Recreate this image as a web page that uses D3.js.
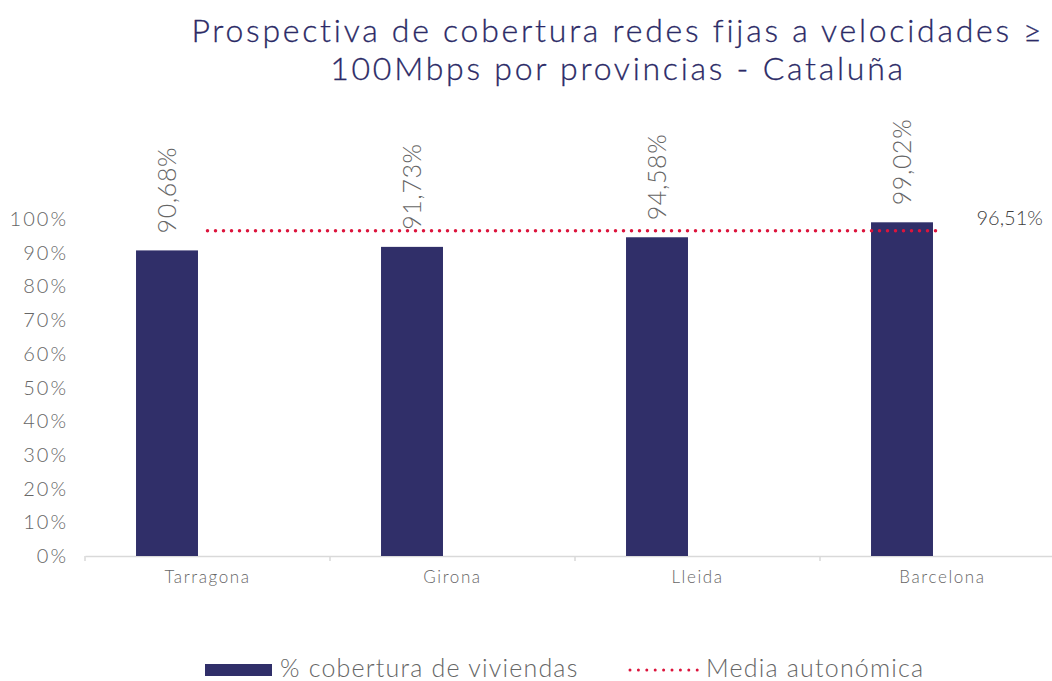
<!DOCTYPE html>
<html>
<head>
<meta charset="utf-8">
<script src="https://cdnjs.cloudflare.com/ajax/libs/d3/7.8.5/d3.min.js"></script>
<style>
  body { margin: 0; background: #fff; }
  svg text { font-family: Lato, "Open Sans", sans-serif; font-weight: 300; }
</style>
</head>
<body>
<div id="chart"></div>
<script>
var provincias = ["Tarragona", "Girona", "Lleida", "Barcelona"];
var cobertura  = [90.68, 91.73, 94.58, 99.02];
var media      = 96.51;
var yTicks     = [0, 10, 20, 30, 40, 50, 60, 70, 80, 90, 100];
var titleLines = ["Prospectiva de cobertura redes fijas a velocidades \u2265", "100Mbps por provincias - Cataluña"];
var legendLabels = ["% cobertura de viviendas", "Media autonómica"];

var W = 1052, H = 681;
var navy = "#302f69", red = "#dc143c", grey = "#666666";

var svg = d3.select("#chart").append("svg")
  .attr("width", W).attr("height", H);

var fmt = v => d3.format(".2f")(v).replace(".", ",") + "%";

// scales
var x = d3.scaleBand().domain(provincias).range([85, 1065]).padding(0);
var xSub = d3.scaleBand().domain(["bar", "line"]).range([0, x.bandwidth()])
  .paddingInner(0.235).paddingOuter(0.63);
var y = d3.scaleLinear().domain([0, 100]).range([556, 219]);

// title
svg.append("text")
  .attr("x", 618).attr("y", 42)
  .attr("text-anchor", "middle")
  .style("font-size", "32px")
  .style("letter-spacing", "2.75px")
  .style("fill", "#2b2a66")
  .style("stroke", "#2b2a66").style("stroke-width", 0.3)
  .selectAll("tspan").data(titleLines).enter().append("tspan")
    .attr("x", 618)
    .attr("dy", (d, i) => i ? 38 : 0)
    .text(d => d);

// y axis labels (no line)
svg.append("g").selectAll("text").data(yTicks).enter().append("text")
  .attr("x", 68).attr("y", d => y(d))
  .attr("dy", "0.35em")
  .attr("text-anchor", "end")
  .style("font-size", "20px")
  .style("letter-spacing", "2px")
  .style("fill", grey)
  .text(d => d + "%");

// x axis
var xAxis = d3.axisBottom(x).tickSize(0).tickPadding(15);
var xg = svg.append("g").attr("transform", "translate(0,556)").call(xAxis);
xg.select(".domain").attr("stroke", "#d9d9d9").attr("stroke-width", 1.5);
xg.selectAll("text").style("font-size", "17px").style("fill", grey)
  .style("font-family", "Lato, sans-serif").style("font-weight", 300)
  .style("letter-spacing", "1.6px");
// category boundary tick marks
xg.selectAll(".sep").data(provincias).enter().append("line")
  .attr("class", "sep")
  .attr("x1", d => x(d)).attr("x2", d => x(d))
  .attr("y1", 0).attr("y2", 5)
  .attr("stroke", "#d9d9d9").attr("stroke-width", 1.5);

// bars
svg.append("g").selectAll("rect").data(provincias).enter().append("rect")
  .attr("x", d => x(d) + xSub("bar"))
  .attr("width", xSub.bandwidth())
  .attr("y", (d, i) => y(cobertura[i]))
  .attr("height", (d, i) => y(0) - y(cobertura[i]))
  .attr("fill", navy);

// rotated data labels
svg.append("g").selectAll("text").data(provincias).enter().append("text")
  .attr("transform", (d, i) => `translate(${x(d) + xSub("bar") + xSub.bandwidth() / 2 + 9}, ${y(cobertura[i]) - 17}) rotate(-90)`)
  .style("font-size", "25px")
  .style("letter-spacing", "0.6px")
  .style("fill", grey)
  .text((d, i) => fmt(cobertura[i]));

// media line
var line = d3.line().x(d => x(d) + x.bandwidth() / 2).y(() => y(media));
svg.append("path")
  .datum(provincias)
  .attr("d", line)
  .attr("fill", "none")
  .attr("stroke", red)
  .attr("stroke-width", 3.5)
  .attr("stroke-linecap", "round")
  .attr("stroke-dasharray", "0,8");

svg.append("text")
  .attr("x", x(provincias[3]) + x.bandwidth() / 2 + 34)
  .attr("y", y(media) - 13)
  .attr("dy", "0.35em")
  .style("font-size", "20px")
  .style("fill", "#404040")
  .text(fmt(media));

// legend
var lg = svg.append("g").attr("transform", "translate(0,670)");
lg.append("rect").attr("x", 205).attr("y", -6).attr("width", 67).attr("height", 12).attr("fill", navy);
lg.append("text").attr("x", 280).attr("y", 7)
  .style("font-size", "25px").style("letter-spacing", "1.2px")
  .style("fill", grey).text(legendLabels[0]);
lg.append("line").attr("x1", 630).attr("x2", 700).attr("y1", 0).attr("y2", 0)
  .attr("stroke", red).attr("stroke-width", 3).attr("stroke-linecap", "round")
  .attr("stroke-dasharray", "0,8.4");
lg.append("text").attr("x", 706).attr("y", 7)
  .style("font-size", "25px").style("letter-spacing", "1.2px")
  .style("fill", grey).text(legendLabels[1]);
</script>
</body>
</html>
